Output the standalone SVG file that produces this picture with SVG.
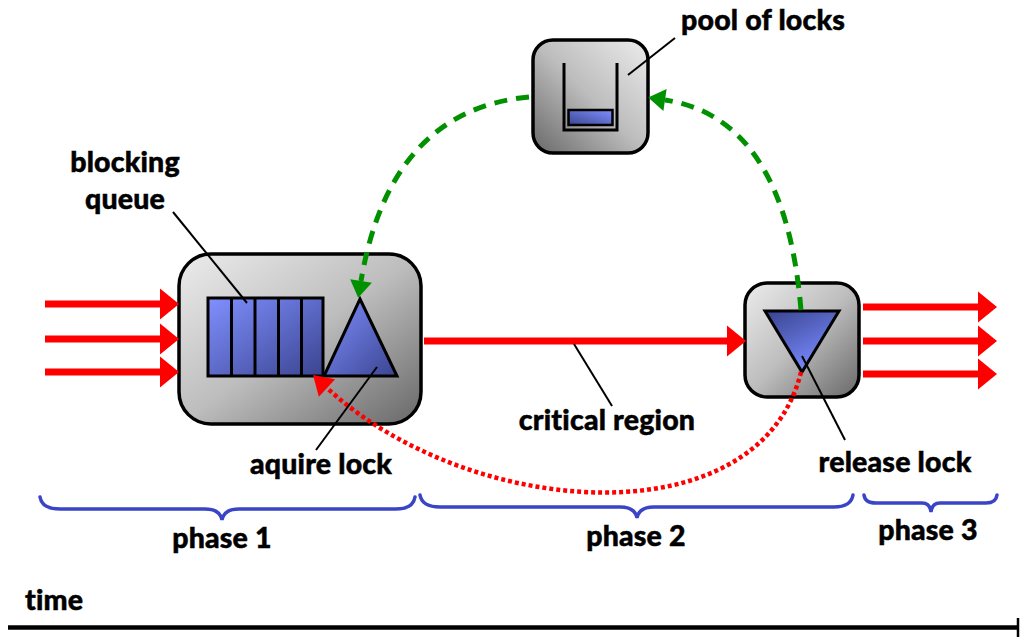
<svg xmlns="http://www.w3.org/2000/svg" width="1021" height="638" viewBox="0 0 1021 638">
  <style>
    .lbl { font-family: Lato, "Open Sans", "Liberation Sans", sans-serif; font-weight: 900; font-size: 28.5px; fill: #000; stroke: #000; stroke-width: 0.5; letter-spacing: 0.2px; }
    .box { stroke: #000; stroke-width: 3.5; }
    .part { stroke: #000; stroke-width: 3; }
    .lead { stroke: #000; stroke-width: 2; fill: none; }
    .flow { stroke: #ff0000; stroke-width: 7; fill: none; }
    .give { stroke: #009000; stroke-width: 5; fill: none; stroke-dasharray: 13 9; }
    .back { stroke: #ff0000; stroke-width: 4.5; fill: none; stroke-dasharray: 4 3; }
    .brace { stroke: #3a44c6; stroke-width: 3.5; fill: none; stroke-linecap: round; }
  </style>
  <defs>
    <linearGradient id="grayTL" x1="0" y1="0" x2="1" y2="1">
      <stop offset="0" stop-color="#ececec"/>
      <stop offset="0.5" stop-color="#bdbdbd"/>
      <stop offset="1" stop-color="#686868"/>
    </linearGradient>
    <linearGradient id="grayTR" x1="1" y1="0" x2="0" y2="1">
      <stop offset="0" stop-color="#ececec"/>
      <stop offset="0.5" stop-color="#bdbdbd"/>
      <stop offset="1" stop-color="#686868"/>
    </linearGradient>
    <linearGradient id="blueTL" x1="0" y1="0" x2="1" y2="1">
      <stop offset="0" stop-color="#8090ff"/>
      <stop offset="1" stop-color="#3a4490"/>
    </linearGradient>
    <linearGradient id="blueUp" x1="0" y1="0" x2="0.6" y2="1">
      <stop offset="0" stop-color="#38438e"/>
      <stop offset="1" stop-color="#7a8cff"/>
    </linearGradient>
    <linearGradient id="blueLR" x1="0" y1="1" x2="1" y2="0">
      <stop offset="0" stop-color="#3a4590"/>
      <stop offset="1" stop-color="#8090ff"/>
    </linearGradient>
    <marker id="redHead" markerUnits="userSpaceOnUse" markerWidth="19" markerHeight="31" refX="0" refY="15.5" orient="auto" overflow="visible">
      <path d="M0,0 L19,15.5 L0,31 z" fill="#ff0000"/>
    </marker>
    <marker id="greenHead" markerUnits="userSpaceOnUse" markerWidth="17" markerHeight="22" refX="0" refY="11" orient="auto" overflow="visible">
      <path d="M0,0 L17,11 L0,22 z" fill="#009000"/>
    </marker>
    <marker id="dotHead" markerUnits="userSpaceOnUse" markerWidth="19" markerHeight="24" refX="0" refY="12" orient="auto" overflow="visible">
      <path d="M0,0 L19,12 L0,24 z" fill="#ff0000"/>
    </marker>
  </defs>

  <!-- acquire stage: queue plus lock gate -->
  <g id="acquire">
    <rect class="box" x="179" y="254" width="242" height="170" rx="32" fill="url(#grayTL)"/>
    <rect class="part" x="208" y="298" width="115" height="78" fill="url(#blueTL)"/>
    <line class="part" x1="231.5" y1="298" x2="231.5" y2="376"/>
    <line class="part" x1="255" y1="298" x2="255" y2="376"/>
    <line class="part" x1="278.5" y1="298" x2="278.5" y2="376"/>
    <line class="part" x1="301.5" y1="298" x2="301.5" y2="376"/>
    <polygon class="part" points="360,299 397,376 324,376" fill="url(#blueTL)"/>
  </g>

  <!-- pool of locks -->
  <g id="pool">
    <rect class="box" x="533" y="40" width="115" height="113" rx="20" fill="url(#grayTR)"/>
    <polyline points="564,63 564,130 617,130 617,63" fill="none" stroke="#000" stroke-width="3"/>
    <rect x="568.5" y="110" width="44" height="15" fill="url(#blueLR)" stroke="#000" stroke-width="2.5"/>
  </g>

  <!-- release stage -->
  <g id="release">
    <rect class="box" x="745" y="283" width="114" height="114" rx="22" fill="url(#grayTL)"/>
    <polygon class="part" points="765,311 839,311 802,372" fill="url(#blueUp)"/>
  </g>

  <!-- connectors -->
  <g id="connectors">
    <line class="flow" x1="45" y1="304" x2="160" y2="304" marker-end="url(#redHead)"/>
    <line class="flow" x1="45" y1="339" x2="160" y2="339" marker-end="url(#redHead)"/>
    <line class="flow" x1="45" y1="372" x2="160" y2="372" marker-end="url(#redHead)"/>
    <line class="flow" x1="424" y1="341" x2="727" y2="341" marker-end="url(#redHead)"/>
    <line class="flow" x1="863" y1="307" x2="978" y2="307" marker-end="url(#redHead)"/>
    <line class="flow" x1="863" y1="341" x2="978" y2="341" marker-end="url(#redHead)"/>
    <line class="flow" x1="863" y1="374" x2="978" y2="374" marker-end="url(#redHead)"/>
    <path class="give" d="M529,97 Q390,110 361,281" marker-end="url(#greenHead)"/>
    <path class="give" d="M801,310 Q785,118 665,100" marker-end="url(#greenHead)"/>
    <path class="back" d="M801,372 C760,540 470,520 327,388" marker-end="url(#dotHead)"/>
  </g>

  <!-- labels and leader lines -->
  <g id="labels">
    <line class="lead" x1="173" y1="212" x2="247" y2="303"/>
    <text class="lbl" x="125" y="172" text-anchor="middle">blocking</text>
    <text class="lbl" x="125" y="209" text-anchor="middle">queue</text>
    <line class="lead" x1="675" y1="38" x2="628" y2="75"/>
    <text class="lbl" x="681" y="30">pool of locks</text>
    <line class="lead" x1="574" y1="344" x2="612" y2="406"/>
    <text class="lbl" x="607" y="430" text-anchor="middle">critical region</text>
    <line class="lead" x1="377" y1="367" x2="316" y2="450"/>
    <text class="lbl" x="321" y="474" text-anchor="middle">aquire lock</text>
    <line class="lead" x1="802" y1="356" x2="845" y2="440"/>
    <text class="lbl" x="895" y="472" text-anchor="middle">release lock</text>
  </g>

  <!-- phases along the time axis -->
  <g id="phases">
    <path class="brace" d="M40,497 Q42,509 60,509 L205,509 Q220,509 222,520 Q224,509 239,509 L396,509 Q413,509 415,497"/>
    <path class="brace" d="M420,495 Q422,507 440,507 L620,507 Q635,507 637,518 Q639,507 654,507 L834,507 Q851,507 853,495"/>
    <path class="brace" d="M864,495 Q865,503 876,503 L922,503 Q930,503 931,512 Q932,503 940,503 L986,503 Q996,503 997,495"/>
    <text class="lbl" x="222" y="548" text-anchor="middle">phase 1</text>
    <text class="lbl" x="636" y="546" text-anchor="middle">phase 2</text>
    <text class="lbl" x="928" y="540" text-anchor="middle">phase 3</text>
  </g>

  <g id="time-axis">
    <text class="lbl" x="25" y="610">time</text>
    <line x1="8" y1="627.5" x2="1018" y2="627.5" stroke="#000" stroke-width="4.5"/>
    <line x1="1018" y1="618" x2="1018" y2="637" stroke="#000" stroke-width="2.5"/>
  </g>
</svg>
